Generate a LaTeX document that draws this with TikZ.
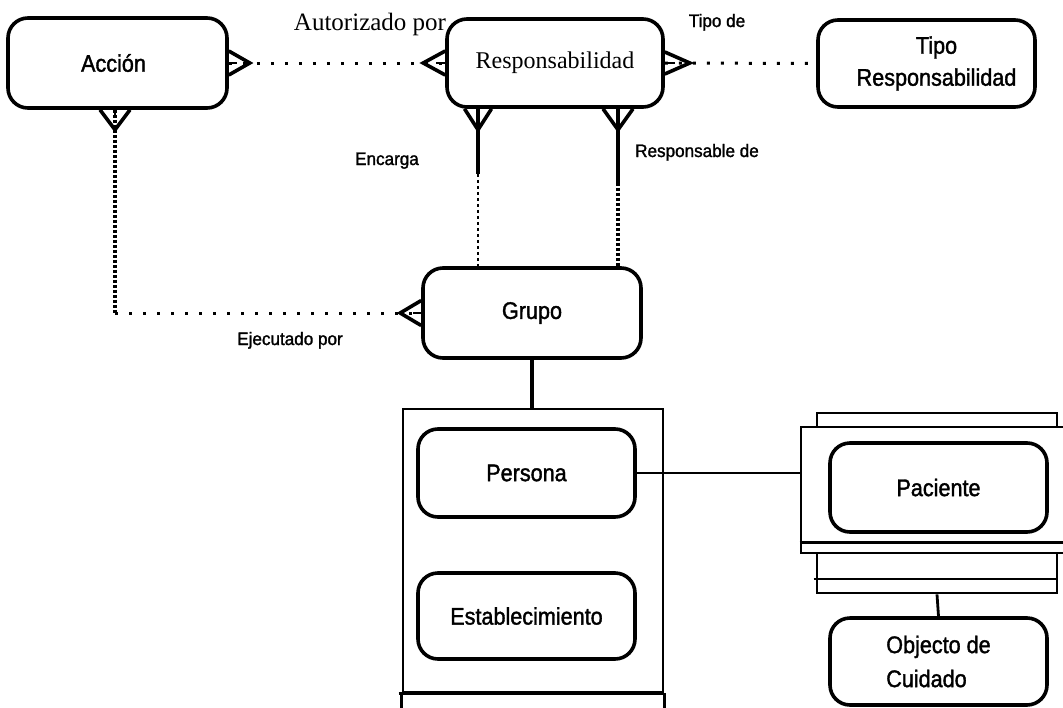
\documentclass[tikz,border=0pt]{standalone}
\usepackage{fontspec}
\setmainfont{Liberation Serif}
\newfontfamily\sansnarrow[FakeStretch=0.9,FakeBold=1.5]{Liberation Sans}
\newfontfamily\sanslabel[FakeStretch=0.95,FakeBold=1.5]{Liberation Sans}
\usetikzlibrary{calc}

% crow's foot: #1 tip, #2 point on the entity border, #3 half spread
\newcommand{\crowfoot}[3]{%
  \draw[foot] ($(#2)+(#3)$) -- (#1) -- ($(#2)-(#3)$);
  \draw[line width=1.5pt] (#2) -- ($(#2)!0.4!(#1)$);}

\begin{document}
\begin{tikzpicture}[x=1pt,y=-1pt,
  entity/.style={draw, line width=3.6pt, rounded corners=20pt, inner sep=0pt,
    align=center, font=\sansnarrow\fontsize{24}{32}\selectfont},
  frame/.style={draw, line width=2.8pt, inner sep=0pt},
  frameline/.style={line width=2.8pt},
  rel/.style={line width=3.6pt},
  foot/.style={line width=3.6pt, line join=miter},
  sparse/.style={line width=3pt, dash pattern=on 3pt off 11pt},
  dense/.style={line width=3.5pt, dash pattern=on 3pt off 2pt},
  thindash/.style={line width=1.4pt, dash pattern=on 3pt off 3pt},
  lbl/.style={anchor=base, inner sep=0pt, font=\sanslabel\fontsize{18}{22}\selectfont},
]
\clip (0,0) rectangle (1063,707);

% entities
\node[entity, minimum width=219pt, minimum height=90pt] (acc) at (117.5,63) {Acción\hspace*{8pt}};
\node[entity, minimum width=216pt, minimum height=88pt,
      font=\rmfamily\fontsize{24}{28}\selectfont] (resp) at (555,63) {Responsabilidad};
\node[entity, minimum width=217pt, minimum height=87pt] (tipo) at (926.5,63.5)
      {\hspace*{20pt}Tipo\\\hspace*{20pt}Responsabilidad};
\node[entity, minimum width=218pt, minimum height=90pt] (grp) at (532,313) {Grupo};
\node[entity, minimum width=217pt, minimum height=88pt] (per) at (526.5,473) {Persona};
\node[entity, minimum width=217pt, minimum height=86pt] (est) at (526.5,616) {Establecimiento};
\node[entity, minimum width=217pt, minimum height=89pt] (pac) at (938.5,487.5) {Paciente};
\node[entity, minimum width=217pt, minimum height=87pt, align=left,
      font=\sansnarrow\fontsize{24}{34}\selectfont] (obj) at (938.5,661.5) {Objecto de\\Cuidado};

% subtype frames
\node[frame, minimum width=260pt, minimum height=283pt] (pfr) at (533,550.5) {};
\draw[frameline] ($(pfr.south west)+(-3,0)$) -- (pfr.south east);
\draw[frameline] (pfr.south west) -- ++(0,20);
\draw[frameline] (pfr.south east) -- ++(0,20);

\node[frame, minimum width=240pt, minimum height=14pt] (ptop) at (937,420) {};
\node[frame, minimum width=274pt, minimum height=126pt] (pfr2) at (938,490) {};
\draw[frameline] ($(pfr2.south west)+(0,-12)$) -- ($(pfr2.south east)+(0,-12)$);
\node[frame, minimum width=240pt, minimum height=40pt] (pbot) at (937,573) {};
\draw[frameline] ($(pbot.west)+(-2,6)$) -- ($(pbot.east)+(0,6)$);

% relationship lines
\draw[sparse] (acc.east) -- (resp.west);
\draw[sparse] (resp.east) -- (tipo.west);

\coordinate (accB) at ($(acc.south)+(-2.5,0)$);
\draw[dense] (accB) -- (accB |- grp.west);
\draw[sparse] (accB |- grp.west) -- (grp.west);

\coordinate (rL) at ($(resp.south)+(-77,0)$);
\coordinate (rLm) at ($(rL)+(0,65)$);
\draw[rel] (rL) -- (rLm);
\draw[thindash] (rLm) -- (rL |- grp.north);

\coordinate (rR) at ($(resp.south)+(63,0)$);
\coordinate (rRm) at ($(rR)+(0,74)$);
\draw[rel] (rR) -- (rRm);
\draw[dense] (rRm) -- (rR |- grp.north);

\draw[rel] (grp.south) -- (grp.south |- pfr.north);
\draw[frameline] (per.east) -- (per.east -| pfr2.west);
\draw[frameline] (pbot.south) -- (obj.north);

% crow's feet
\coordinate (accE) at ($(acc.east)+(21,0)$);
\coordinate (respW) at ($(resp.west)+(-22,0)$);
\coordinate (respE) at ($(resp.east)+(25,0)$);
\coordinate (accS) at ($(accB)+(0,20)$);
\coordinate (rLt) at ($(rL)+(0,21)$);
\coordinate (rRt) at ($(rR)+(0,21)$);
\coordinate (grpW) at ($(grp.west)+(-21,0)$);

\crowfoot{accE}{acc.east}{0,12}
\crowfoot{respW}{resp.west}{0,12}
\crowfoot{respE}{resp.east}{0,11}
\crowfoot{accS}{accB}{15,0}
\crowfoot{rLt}{rL}{13.5,0}
\crowfoot{rRt}{rR}{15,0}
\crowfoot{grpW}{grp.west}{0,12.5}

% relationship names
\node[lbl, font=\rmfamily\fontsize{25}{30}\selectfont] (autl) at (370,30) {Autorizado por};
\node[lbl] (tdl) at (717,27) {Tipo de};
\node[lbl] (encl) at (387,165) {Encarga};
\node[lbl] (rdl) at (697,157) {Responsable de};
\node[lbl] (ejl) at (290,345) {Ejecutado por};
\end{tikzpicture}
\end{document}
